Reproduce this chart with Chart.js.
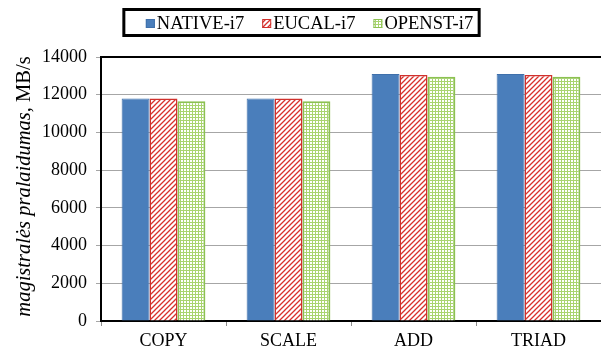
<!DOCTYPE html>
<html>
<head>
<meta charset="utf-8">
<script src="https://cdn.jsdelivr.net/npm/chart.js@4.4.0/dist/chart.umd.min.js"></script>
<style>
  html, body { margin: 0; padding: 0; background: #fff; }
  #wrap { width: 601px; height: 350px; }
</style>
</head>
<body>
<div id="wrap"><canvas id="bw-chart" width="601" height="350"></canvas></div>
<script>
const categories = ["COPY", "SCALE", "ADD", "TRIAD"];
const seriesNames = ["NATIVE-i7", "EUCAL-i7", "OPENST-i7"];
const nativeVals = [11800, 11800, 13100, 13100];
const eucalVals = [11800, 11800, 13050, 13050];
const openstVals = [11650, 11650, 12950, 12950];
const yTicks = [0, 2000, 4000, 6000, 8000, 10000, 12000, 14000];
const yTitle = "magistralės pralaidumas,";
const yUnit = "MB/s";

const serif = "'Liberation Serif', 'Times New Roman', serif";

// red diagonal hatch
function hatchPattern() {
  const c = document.createElement("canvas");
  c.width = 5; c.height = 5;
  const g = c.getContext("2d");
  g.fillStyle = "#fff";
  g.fillRect(0, 0, 5, 5);
  g.strokeStyle = "#d8302c";
  g.lineWidth = 1.3;
  g.beginPath();
  g.moveTo(-1, 6); g.lineTo(6, -1);
  g.moveTo(-1, 1); g.lineTo(1, -1);
  g.moveTo(4, 6); g.lineTo(6, 4);
  g.stroke();
  return g.createPattern(c, "repeat");
}

// small green grid
function gridPattern() {
  const c = document.createElement("canvas");
  c.width = 3; c.height = 3;
  const g = c.getContext("2d");
  g.fillStyle = "#fff";
  g.fillRect(0, 0, 3, 3);
  g.fillStyle = "#a9d46f";
  g.fillRect(0, 0, 3, 1);
  g.fillRect(0, 0, 1, 3);
  return g.createPattern(c, "repeat");
}

const fills = ["#4a7ebb", hatchPattern(), gridPattern()];
const strokes = ["#3f70ab", "#d0312d", "#8cc152"];
const strokeW = [1, 1.5, 2];

const frameAndLabels = {
  id: "frameAndLabels",
  afterDraw(chart) {
    const ctx = chart.ctx;
    const a = chart.chartArea;
    ctx.save();

    // top edge of the plot frame
    ctx.strokeStyle = "#000";
    ctx.lineWidth = 2;
    ctx.beginPath();
    ctx.moveTo(a.left - 1, a.top);
    ctx.lineTo(a.right, a.top);
    ctx.stroke();

    // y title: italic words, upright unit
    const fIt = "italic 20.5px " + serif;
    const fUp = "20.5px " + serif;
    ctx.font = fIt;
    const w1 = ctx.measureText(yTitle + " ").width;
    ctx.font = fUp;
    const w2 = ctx.measureText(yUnit).width;
    ctx.translate(30, 186.5);
    ctx.rotate(-Math.PI / 2);
    ctx.fillStyle = "#000";
    ctx.textBaseline = "alphabetic";
    ctx.textAlign = "left";
    let x0 = -(w1 + w2) / 2;
    ctx.font = fIt;
    ctx.fillText(yTitle + " ", x0, 0);
    ctx.font = fUp;
    ctx.fillText(yUnit, x0 + w1, 0);
    ctx.setTransform(1, 0, 0, 1, 0, 0);

    // legend
    ctx.font = "18.5px " + serif;
    const box = 9, gap = 2, spacing = 18;
    const items = chart.data.datasets.map(ds => ({
      ds, w: box + gap + ctx.measureText(ds.label).width
    }));
    const total = items.reduce((s, it) => s + it.w, 0) + spacing * (items.length - 1);
    let x = 309.5 - total / 2;
    const cy = 23;
    const left = x - 22, right = x + total + 6;
    ctx.lineWidth = 3;
    ctx.strokeStyle = "#000";
    ctx.strokeRect(left, 9.5, right - left, 26);
    ctx.textBaseline = "middle";
    items.forEach(it => {
      ctx.fillStyle = it.ds.backgroundColor;
      ctx.fillRect(x, cy - 4, box, box);
      ctx.lineWidth = 1;
      ctx.strokeStyle = it.ds.borderColor;
      ctx.strokeRect(x + 0.5, cy - 3.5, box - 1, box - 1);
      ctx.fillStyle = "#000";
      ctx.fillText(it.ds.label, x + box + gap, cy + 1);
      x += it.w + spacing;
    });
    ctx.restore();
  }
};

new Chart("bw-chart", {
  type: "bar",
  data: {
    labels: categories,
    datasets: [nativeVals, eucalVals, openstVals].map((vals, i) => ({
      label: seriesNames[i],
      data: vals,
      backgroundColor: fills[i],
      borderColor: strokes[i],
      borderWidth: strokeW[i],
      categoryPercentage: 0.67,
      barPercentage: 1
    }))
  },
  options: {
    responsive: false,
    animation: false,
    layout: { padding: { top: 57, left: 0, right: 0, bottom: 0 } },
    plugins: { legend: { display: false }, tooltip: { enabled: false } },
    scales: {
      x: {
        grid: { offset: true, drawOnChartArea: false, tickLength: 5, color: "#8c8c8c" },
        border: { color: "#000", width: 2 },
        ticks: { color: "#000", font: { family: serif, size: 18 }, padding: 4 },
        afterFit: s => { s.height = 29; }
      },
      y: {
        min: 0,
        max: 14000,
        afterBuildTicks: s => { s.ticks = yTicks.map(v => ({ value: v })); },
        ticks: {
          color: "#000",
          font: { family: serif, size: 18 },
          padding: 9,
          callback: v => String(v)
        },
        grid: { color: "#a6a6a6", tickLength: 5 },
        border: { color: "#000", width: 2 },
        afterFit: s => { s.width = 101; }
      }
    }
  },
  plugins: [frameAndLabels]
});
</script>
</body>
</html>
